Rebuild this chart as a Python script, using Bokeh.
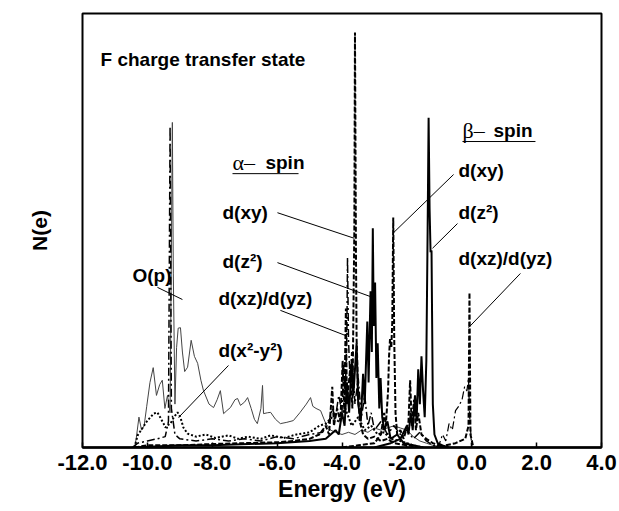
from bokeh.plotting import figure
from bokeh.models import Range1d, FixedTicker, PrintfTickFormatter
from bokeh.core.properties import value
from bokeh.embed import file_html
from bokeh.resources import INLINE

# ---------------- data (energy in eV, N(e) arbitrary units) ----------------
op_e = [-10.50, -10.38, -10.34, -10.26, -10.18, -10.10, -10.02, -9.92, -9.82, -9.72, -9.62, -9.54,
        -9.46, -9.38, -9.30, -9.25, -9.23, -9.20, -9.15, -9.10, -9.05, -8.98, -8.92, -8.85, -8.76,
        -8.65, -8.55, -8.45, -8.35, -8.27, -8.10, -7.96, -7.85, -7.75, -7.65, -7.55, -7.44, -7.30,
        -7.22, -7.13, -7.00, -6.91, -6.80, -6.70, -6.61, -6.50, -6.45, -6.42, -6.30, -6.20, -6.05,
        -5.90, -5.70, -5.50, -5.30, -5.10, -4.97, -4.90, -4.80, -4.66, -4.50, -4.35, -4.20, -4.00,
        -3.80, -3.60, -3.40, -3.20, -3.00, -2.80, -2.60, -2.40, -2.20, -2.00, -1.80, -1.60, -1.40,
        -1.20, -1.00]
op_v = [0.00, 0.05, 0.23, 0.70, 0.40, 0.50, 0.95, 1.50, 1.84, 1.20, 1.45, 1.55,
        0.90, 1.20, 0.80, 5.50, 7.49, 4.00, 1.00, 2.30, 2.75, 2.76, 2.20, 1.75, 1.85,
        2.47, 2.10, 1.94, 1.55, 1.31, 1.00, 0.92, 1.10, 1.31, 0.78, 0.85, 0.92, 1.10,
        1.13, 0.97, 1.05, 1.15, 0.90, 0.65, 0.55, 0.90, 1.43, 0.78, 0.80, 0.81, 0.65,
        0.55, 0.58, 0.62, 0.80, 1.00, 1.15, 0.95, 0.90, 0.85, 0.55, 0.40, 0.35, 0.30,
        0.35, 0.30, 0.40, 0.35, 0.45, 0.40, 0.45, 0.50, 0.45, 0.40, 0.25, 0.15, 0.10,
        0.05, 0.02]

a_xz_e = [-10.45, -10.30, -10.00, -9.70, -9.45, -9.35, -9.30, -9.26, -9.15, -9.00, -8.50, -8.00,
          -7.50, -7.00, -6.50, -6.00, -5.50, -5.00, -4.60, -4.40, -4.30, -4.20, -4.10, -4.00,
          -3.95, -3.90, -3.85, -3.83, -3.80, -3.75, -3.70, -3.60, -3.50, -3.40, -3.30, -3.20,
          -3.10, -3.00, -2.80, -2.60, -2.40, -2.20, -2.00, -1.80, -1.60, -1.40, -1.20, -1.00]
a_xz_v = [0.00, 0.10, 0.15, 0.20, 0.25, 0.60, 7.40, 0.90, 0.30, 0.20, 0.15, 0.20,
          0.15, 0.20, 0.15, 0.25, 0.20, 0.30, 0.35, 0.60, 0.90, 0.70, 1.20, 0.80,
          1.90, 1.20, 2.60, 4.38, 2.50, 1.50, 2.20, 1.00, 1.60, 0.70, 1.20, 0.50,
          0.80, 0.40, 0.60, 0.30, 0.50, 0.30, 0.40, 0.20, 0.35, 0.15, 0.05, 0.00]

a_xy_e = [-10.40, -10.00, -9.00, -8.00, -7.00, -6.00, -5.50, -5.00, -4.70, -4.50, -4.40, -4.30,
          -4.25, -4.15, -4.05, -3.98, -3.93, -3.88, -3.85, -3.75, -3.68, -3.62, -3.60, -3.57,
          -3.55, -3.50, -3.45, -3.35, -3.20, -3.00, -2.80, -2.60, -2.40, -2.00, -1.50]
a_xy_v = [0.00, 0.05, 0.05, 0.08, 0.10, 0.12, 0.15, 0.20, 0.30, 0.50, 0.30, 1.40,
          0.50, 0.90, 0.60, 2.00, 0.80, 3.20, 1.00, 1.80, 0.90, 5.00, 9.56, 4.50,
          2.50, 1.20, 0.60, 0.30, 0.20, 0.25, 0.15, 0.20, 0.10, 0.05, 0.00]

a_z2_e = [-10.40, -9.00, -8.00, -6.00, -5.00, -4.50, -4.20, -4.10, -4.00, -3.92, -3.85, -3.78,
          -3.70, -3.65, -3.55, -3.50, -3.42, -3.35, -3.30, -3.22, -3.18, -3.12, -3.08, -3.05,
          -3.02, -2.98, -2.94, -2.90, -2.85, -2.81, -2.76, -2.70, -2.60, -2.50, -2.30, -2.10,
          -1.80, -1.50]
a_z2_v = [0.00, 0.05, 0.05, 0.10, 0.15, 0.20, 0.40, 0.30, 0.80, 0.50, 1.50, 0.80,
          2.00, 1.20, 2.40, 1.00, 0.60, 1.70, 1.00, 2.90, 1.50, 3.60, 2.20, 5.05,
          2.80, 3.80, 1.60, 2.40, 0.90, 1.60, 0.70, 0.40, 0.60, 0.20, 0.30, 0.10,
          0.05, 0.00]

a_x2y2_e = [-10.40, -10.30, -10.15, -10.00, -9.90, -9.81, -9.69, -9.60, -9.50, -9.44, -9.36, -9.29,
            -9.18, -9.07, -8.98, -8.89, -8.76, -8.50, -8.20, -7.90, -7.50, -7.20, -6.90, -6.50,
            -6.20, -5.80, -5.40, -5.00, -4.70, -4.50, -4.30, -4.10, -3.90, -3.70, -3.50, -3.30,
            -3.10, -2.90, -2.70, -2.50, -2.20, -1.80, -1.50]
a_x2y2_v = [0.00, 0.28, 0.45, 0.62, 0.70, 0.78, 0.81, 0.69, 0.55, 0.46, 0.52, 0.55,
            0.70, 0.81, 0.69, 0.46, 0.32, 0.25, 0.30, 0.22, 0.28, 0.20, 0.25, 0.20,
            0.28, 0.22, 0.30, 0.35, 0.50, 0.55, 0.70, 0.60, 0.90, 0.50, 0.70, 0.40,
            0.50, 0.30, 0.35, 0.20, 0.15, 0.05, 0.00]

b_xy_e = [-4.00, -3.50, -3.00, -2.80, -2.70, -2.65, -2.58, -2.55, -2.52, -2.48, -2.45, -2.42,
          -2.39, -2.35, -2.30, -2.20, -2.10, -1.95, -1.90, -1.85, -1.78, -1.72, -1.65, -1.55,
          -1.40, -1.20, -1.00, -0.80]
b_xy_v = [0.00, 0.05, 0.10, 0.30, 0.80, 0.50, 1.30, 2.10, 2.50, 2.30, 2.90, 5.30,
          2.50, 0.80, 0.30, 0.40, 0.20, 0.60, 1.55, 0.50, 1.10, 0.40, 0.80, 0.30,
          0.20, 0.10, 0.05, 0.00]

b_z2_e = [-3.00, -2.50, -2.20, -2.00, -1.95, -1.88, -1.82, -1.75, -1.70, -1.65, -1.60, -1.55,
          -1.50, -1.45, -1.40, -1.36, -1.33, -1.30, -1.27, -1.24, -1.20, -1.15, -1.05, -0.90, -0.70]
b_z2_v = [0.00, 0.10, 0.20, 0.50, 0.30, 0.80, 0.40, 1.20, 0.60, 1.80, 1.00, 2.10,
          1.30, 0.70, 2.00, 5.00, 7.60, 5.50, 4.50, 4.54, 1.00, 0.30, 0.10, 0.05, 0.00]

b_xz_e = [-1.00, -0.80, -0.50, -0.20, -0.10, -0.07, -0.04, 0.05]
b_xz_v = [0.00, 0.05, 0.10, 0.20, 0.50, 3.57, 0.30, 0.00]

b_xz2_e = [-1.10, -1.00, -0.90, -0.80, -0.70, -0.60, -0.50, -0.40, -0.30, -0.22, -0.15, -0.10, -0.07, 0.00]
b_xz2_v = [0.00, 0.08, 0.30, 0.15, 0.55, 0.40, 0.85, 0.95, 1.10, 1.40, 1.30, 1.60, 0.80, 0.00]

x_ticks = [-12, -10, -8, -6, -4, -2, 0, 2, 4]

# ---------------- annotations ----------------
lab_x = [-11.445, -7.684, -7.684, -7.81, -7.81, -10.46, -0.41, -0.41, -0.41]
lab_y = [8.94, 5.41, 4.29, 3.43, 2.24, 3.96, 6.38, 5.41, 4.35]
lab_t = ["F charge transfer state", "d(xy)", "d(z\u00b2)", "d(xz)/d(yz)", "d(x\u00b2-y\u00b2)",
         "O(p)", "d(xy)", "d(z\u00b2)", "d(xz)/d(yz)"]

lead_x0 = [-5.99, -5.99, -5.90, -7.50, -9.69, -0.56, -0.44, 1.50]
lead_y0 = [5.41, 4.26, 3.16, 1.89, 3.69, 6.29, 5.16, 4.01]
lead_x1 = [-3.62, -3.06, -3.89, -9.04, -8.92, -2.41, -1.21, -0.10]
lead_y1 = [4.82, 3.46, 2.58, 0.69, 3.41, 4.95, 4.59, 2.76]

spin_greek = ["\u03b1\u2013", "\u03b2\u2013"]
spin_gx = [-7.376, -0.286]
spin_sx = [-6.36, 0.67]
spin_y = [6.57, 7.30]
ul_x0 = [-7.376, -0.286]
ul_x1 = [-5.34, 1.964]
ul_y = [6.31, 7.05]

# ---------------- figure ----------------
p = figure(width=619, height=511, output_backend="svg", toolbar_location=None,
           x_range=Range1d(-12, 4), y_range=Range1d(0, 10),
           min_border_left=82, min_border_right=18, min_border_top=13, min_border_bottom=64)
p.background_fill_color = "white"
p.border_fill_color = "white"
p.grid.visible = False
p.outline_line_color = "black"
p.outline_line_width = 2

FONT = value("Liberation Sans")

xa = p.xaxis[0]
xa.ticker = FixedTicker(ticks=x_ticks)
xa.formatter = PrintfTickFormatter(format="%.1f")
xa.major_label_text_font = "Liberation Sans"
xa.major_label_text_font_style = "bold"
xa.major_label_text_font_size = "22px"
xa.major_label_text_color = "black"
xa.major_label_standoff = 7
xa.major_tick_in = 5
xa.major_tick_out = 0
xa.major_tick_line_width = 1.5
xa.minor_tick_line_color = None
xa.axis_line_width = 2.5
xa.axis_label = "Energy (eV)"
xa.axis_label_text_font = "Liberation Sans"
xa.axis_label_text_font_style = "bold"
xa.axis_label_text_font_size = "23px"
xa.axis_label_text_color = "black"
xa.axis_label_standoff = 3

ya = p.yaxis[0]
ya.ticker = FixedTicker(ticks=[])
ya.major_tick_line_color = None
ya.minor_tick_line_color = None
ya.axis_line_color = None
ya.axis_label = "N(e)"
ya.axis_label_text_font = "Liberation Sans"
ya.axis_label_text_font_style = "bold"
ya.axis_label_text_font_size = "21px"
ya.axis_label_text_color = "black"
ya.axis_label_standoff = 32

# curves
p.line(op_e, op_v, line_color="#444444", line_width=1)
p.line(a_x2y2_e, a_x2y2_v, line_color="black", line_width=2, line_dash="2 2")
p.line(a_xz_e, a_xz_v, line_color="black", line_width=1.5, line_dash="8 3 2 3")
p.line(a_z2_e, a_z2_v, line_color="black", line_width=2)
p.line(a_xy_e, a_xy_v, line_color="black", line_width=2, line_dash="5 2")
p.line(b_xy_e, b_xy_v, line_color="black", line_width=2, line_dash="5 2")
p.line(b_z2_e, b_z2_v, line_color="black", line_width=2)
p.line(b_xz2_e, b_xz2_v, line_color="black", line_width=1.2, line_dash="8 3 2 3")
p.line(b_xz_e, b_xz_v, line_color="black", line_width=2, line_dash="5 2")

# annotations
p.segment(lead_x0, lead_y0, lead_x1, lead_y1, line_color="black", line_width=1)
p.segment(ul_x0, ul_y, ul_x1, ul_y, line_color="black", line_width=1)
p.text(lab_x, lab_y, text=lab_t, text_font=FONT, text_font_style="bold",
       text_font_size="19px", text_baseline="middle", text_align="left", text_color="black")
p.text(spin_gx, spin_y, text=spin_greek, text_font=value("Liberation Serif"),
       text_font_size="22px", text_baseline="middle", text_align="left", text_color="black")
p.text(spin_sx, spin_y, text=["spin", "spin"], text_font=FONT, text_font_style="bold",
       text_font_size="19px", text_baseline="middle", text_align="left", text_color="black")

open("out.html", "w").write(file_html(p, INLINE))
